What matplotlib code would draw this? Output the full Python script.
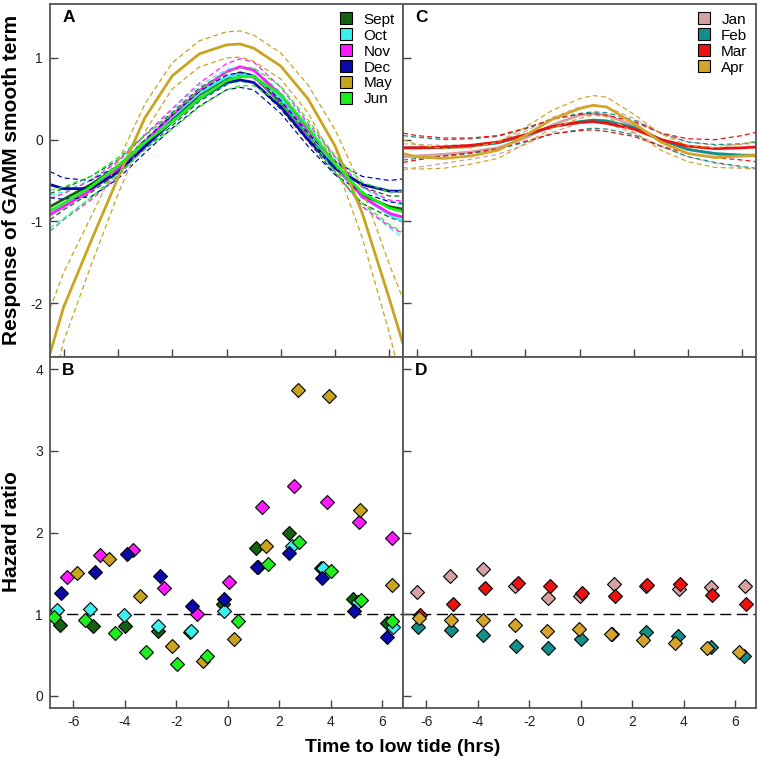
import matplotlib
matplotlib.use("Agg")
import matplotlib.pyplot as plt
from matplotlib.patches import Patch

plt.rcParams['font.family'] = ['Liberation Sans', 'DejaVu Sans']
plt.rcParams['axes.unicode_minus'] = False

# horas em relação à maré baixa onde as curvas GAMM foram lidas
tide_hours = [-6.5, -6, -5, -4, -3, -2, -1, 0, 0.5, 1, 2, 3, 4, 5, 6, 6.5]

# painel A - ajuste do termo suave e meia-largura do IC
sept_fit = [-0.82, -0.73, -0.55, -0.33, -0.03, 0.25, 0.55, 0.75, 0.82, 0.78, 0.45, 0.06, -0.34, -0.68, -0.82, -0.85]
sept_ci = [0.16, 0.13, 0.10, 0.08, 0.08, 0.08, 0.08, 0.08, 0.08, 0.08, 0.08, 0.08, 0.08, 0.10, 0.13, 0.16]
oct_fit = [-0.88, -0.80, -0.60, -0.35, -0.03, 0.28, 0.57, 0.77, 0.80, 0.78, 0.50, 0.10, -0.32, -0.70, -0.92, -1.00]
oct_ci = [0.20, 0.16, 0.11, 0.09, 0.08, 0.08, 0.09, 0.09, 0.09, 0.09, 0.08, 0.08, 0.09, 0.11, 0.16, 0.20]
nov_fit = [-0.92, -0.82, -0.62, -0.36, -0.02, 0.30, 0.60, 0.83, 0.89, 0.85, 0.55, 0.12, -0.30, -0.70, -0.90, -0.95]
nov_ci = [0.20, 0.16, 0.12, 0.09, 0.08, 0.08, 0.09, 0.10, 0.10, 0.10, 0.09, 0.08, 0.09, 0.12, 0.16, 0.20]
dec_fit = [-0.55, -0.60, -0.60, -0.40, -0.08, 0.22, 0.50, 0.70, 0.73, 0.70, 0.40, 0.00, -0.35, -0.55, -0.63, -0.63]
dec_ci = [0.16, 0.13, 0.10, 0.08, 0.08, 0.08, 0.09, 0.09, 0.09, 0.09, 0.08, 0.08, 0.08, 0.10, 0.13, 0.15]
may_fit = [-2.62, -2.05, -1.25, -0.47, 0.27, 0.78, 1.05, 1.16, 1.17, 1.12, 0.90, 0.50, -0.08, -0.90, -1.95, -2.50]
may_ci = [0.55, 0.42, 0.30, 0.20, 0.17, 0.16, 0.16, 0.16, 0.16, 0.16, 0.16, 0.17, 0.20, 0.30, 0.42, 0.55]
jun_fit = [-0.87, -0.78, -0.58, -0.32, -0.03, 0.22, 0.50, 0.72, 0.77, 0.77, 0.55, 0.15, -0.30, -0.65, -0.84, -0.88]
jun_ci = [0.25, 0.20, 0.13, 0.10, 0.09, 0.09, 0.10, 0.11, 0.11, 0.11, 0.10, 0.09, 0.10, 0.13, 0.20, 0.25]

# painel C
jan_fit = [-0.21, -0.20, -0.18, -0.15, -0.10, 0.02, 0.18, 0.30, 0.32, 0.30, 0.17, 0.00, -0.12, -0.18, -0.20, -0.20]
jan_ci = [0.16, 0.14, 0.11, 0.09, 0.08, 0.08, 0.09, 0.10, 0.10, 0.10, 0.09, 0.08, 0.09, 0.11, 0.14, 0.16]
feb_fit = [-0.10, -0.10, -0.10, -0.08, -0.04, 0.05, 0.16, 0.22, 0.24, 0.23, 0.15, 0.00, -0.12, -0.17, -0.19, -0.19]
feb_ci = [0.15, 0.13, 0.10, 0.09, 0.08, 0.08, 0.09, 0.10, 0.10, 0.10, 0.09, 0.08, 0.09, 0.11, 0.14, 0.16]
mar_fit = [-0.10, -0.10, -0.09, -0.07, -0.03, 0.06, 0.16, 0.21, 0.22, 0.20, 0.13, 0.00, -0.08, -0.11, -0.10, -0.09]
mar_ci = [0.18, 0.15, 0.11, 0.09, 0.08, 0.08, 0.09, 0.10, 0.10, 0.10, 0.09, 0.08, 0.09, 0.11, 0.15, 0.18]
apr_fit = [-0.17, -0.21, -0.23, -0.20, -0.13, 0.05, 0.25, 0.38, 0.42, 0.40, 0.20, -0.03, -0.17, -0.22, -0.20, -0.19]
apr_ci = [0.17, 0.15, 0.12, 0.10, 0.10, 0.10, 0.11, 0.12, 0.12, 0.12, 0.11, 0.10, 0.10, 0.12, 0.15, 0.17]

# painel B - hazard ratio por hora (tempo, valor)
sept_t = [-6.52, -5.25, -3.97, -2.71, -1.45, -0.17, 1.10, 2.36, 3.62, 4.87, 6.16]
sept_hr = [0.87, 0.86, 0.86, 0.79, 0.78, 1.13, 1.81, 1.99, 1.57, 1.18, 0.89]
oct_t = [-6.63, -5.34, -4.02, -2.71, -1.42, -0.13, 1.19, 2.51, 3.70, 5.06, 6.42]
oct_hr = [1.05, 1.06, 0.99, 0.86, 0.79, 1.04, 1.58, 1.84, 1.56, 1.15, 0.84]
nov_t = [-6.24, -4.97, -3.68, -2.47, -1.20, 0.06, 1.34, 2.57, 3.84, 5.09, 6.38]
nov_hr = [1.46, 1.73, 1.79, 1.32, 1.00, 1.39, 2.31, 2.57, 2.37, 2.13, 1.93]
dec_t = [-6.46, -5.17, -3.91, -2.65, -1.40, -0.13, 1.12, 2.39, 3.64, 4.91, 6.16]
dec_hr = [1.26, 1.51, 1.74, 1.47, 1.10, 1.18, 1.58, 1.75, 1.44, 1.04, 0.72]
may_t = [-5.85, -4.61, -3.40, -2.17, -0.97, 0.26, 1.49, 2.71, 3.93, 5.13, 6.38]
may_hr = [1.50, 1.68, 1.22, 0.61, 0.43, 0.69, 1.84, 3.74, 3.67, 2.27, 1.36]
jun_t = [-6.76, -5.56, -4.37, -3.18, -1.98, -0.79, 0.39, 1.58, 2.78, 3.99, 5.16, 6.36]
jun_hr = [0.97, 0.93, 0.77, 0.53, 0.39, 0.49, 0.91, 1.61, 1.88, 1.53, 1.17, 0.91]

# painel D
jan_t = [-6.36, -5.08, -3.80, -2.56, -1.27, -0.03, 1.27, 2.53, 3.80, 5.06, 6.36]
jan_hr = [1.27, 1.47, 1.55, 1.35, 1.20, 1.22, 1.37, 1.35, 1.31, 1.33, 1.35]
feb_t = [-6.30, -5.04, -3.79, -2.52, -1.27, 0.00, 1.23, 2.52, 3.77, 5.04, 6.33]
feb_hr = [0.84, 0.81, 0.75, 0.61, 0.59, 0.69, 0.76, 0.78, 0.73, 0.60, 0.49]
mar_t = [-6.23, -4.97, -3.70, -2.45, -1.19, 0.06, 1.33, 2.58, 3.85, 5.10, 6.40]
mar_hr = [0.99, 1.12, 1.32, 1.38, 1.35, 1.26, 1.22, 1.36, 1.37, 1.23, 1.12]
apr_t = [-6.27, -5.04, -3.79, -2.56, -1.32, -0.06, 1.16, 2.42, 3.66, 4.91, 6.14]
apr_hr = [0.95, 0.93, 0.93, 0.87, 0.79, 0.82, 0.76, 0.68, 0.65, 0.59, 0.53]

meses_esq = ["Sept", "Oct", "Nov", "Dec", "May", "Jun"]
cores_esq = ["#126212", "#3cf0f0", "#ff1aff", "#0a0aa8", "#c9a41e", "#1eee1e"]
fits_esq = [sept_fit, oct_fit, nov_fit, dec_fit, may_fit, jun_fit]
cis_esq = [sept_ci, oct_ci, nov_ci, dec_ci, may_ci, jun_ci]
pts_esq = [(sept_t, sept_hr), (oct_t, oct_hr), (nov_t, nov_hr), (dec_t, dec_hr), (may_t, may_hr), (jun_t, jun_hr)]

meses_dir = ["Jan", "Feb", "Mar", "Apr"]
cores_dir = ["#d4a2a2", "#14908c", "#ee1111", "#d4a52a"]
fits_dir = [jan_fit, feb_fit, mar_fit, apr_fit]
cis_dir = [jan_ci, feb_ci, mar_ci, apr_ci]
pts_dir = [(jan_t, jan_hr), (feb_t, feb_hr), (mar_t, mar_hr), (apr_t, apr_hr)]

fig = plt.figure(figsize=(7.6, 7.65), dpi=100)
W, H = 760, 765


def eixo(x0, y0, x1, y1):
    return fig.add_axes([x0 / W, 1 - y1 / H, (x1 - x0) / W, (y1 - y0) / H])


axA = eixo(50, 4, 403, 357)
axC = eixo(403, 4, 756, 357)
axB = eixo(50, 357, 403, 708)
axD = eixo(403, 357, 756, 708)


def curvas(ax, fits, cis, cores):
    for fit, ci, cor in zip(fits, cis, cores):
        sup = [f + c for f, c in zip(fit, ci)]
        inf = [f - c for f, c in zip(fit, ci)]
        ax.plot(tide_hours, sup, color=cor, lw=0.9, ls=(0, (4, 2.5)))
        ax.plot(tide_hours, inf, color=cor, lw=0.9, ls=(0, (4, 2.5)))
        ax.plot(tide_hours, fit, color=cor, lw=2.0, solid_capstyle='round', solid_joinstyle='round')
    ax.set_xlim(-6.5, 6.5)
    ax.set_ylim(-2.66, 1.66)
    ax.set_yticks([-2, -1, 0, 1])


def pontos(ax, pts, cores):
    ax.axhline(1, color='black', lw=1.0, ls=(0, (8, 4)), zorder=1)
    for (t, hr), cor in zip(pts, cores):
        ax.plot(t, hr, ls='none', marker='D', ms=7.5, mfc=cor, mec='black', mew=0.8, zorder=3)
    ax.set_xlim(-6.9, 6.8)
    ax.set_ylim(-0.15, 4.15)
    ax.set_yticks([0, 1, 2, 3, 4])


curvas(axA, fits_esq, cis_esq, cores_esq)
curvas(axC, fits_dir, cis_dir, cores_dir)
pontos(axB, pts_esq, cores_esq)
pontos(axD, pts_dir, cores_dir)

for ax, letra in zip([axA, axB, axC, axD], "ABCD"):
    ax.set_xticks([-6, -4, -2, 0, 2, 4, 6])
    ax.tick_params(direction='in', length=6, width=1, color='#444444', labelsize=10,
                   labelcolor='#222222', pad=5)
    for sp in ax.spines.values():
        sp.set_color('#555555')
        sp.set_linewidth(1.3)
    ax.text(0.035, 0.962, letra, transform=ax.transAxes, fontsize=12.5,
            fontweight='bold', ha='left', va='center')

axA.tick_params(labelbottom=False)
axC.tick_params(labelbottom=False, labelleft=False)
axD.tick_params(labelleft=False)

axA.legend(handles=[Patch(facecolor=c, edgecolor='black', lw=0.8, label=m) for m, c in zip(meses_esq, cores_esq)],
           loc='upper right', frameon=False, fontsize=11, handlelength=0.8, handleheight=0.8,
           labelspacing=0.12, handletextpad=0.75, borderaxespad=0.15)
axC.legend(handles=[Patch(facecolor=c, edgecolor='black', lw=0.8, label=m) for m, c in zip(meses_dir, cores_dir)],
           loc='upper right', frameon=False, fontsize=11, handlelength=0.8, handleheight=0.8,
           labelspacing=0.12, handletextpad=0.75, borderaxespad=0.15)

fig.text(12 / W, 1 - 180 / H, "Response of GAMM smooth term", rotation=90, fontsize=15,
         fontweight='bold', ha='center', va='center')
fig.text(12 / W, 1 - 532 / H, "Hazard ratio", rotation=90, fontsize=15,
         fontweight='bold', ha='center', va='center')
fig.text(403 / W, 1 - 748 / H, "Time to low tide (hrs)", fontsize=14,
         fontweight='bold', ha='center', va='center')

fig.savefig("out.png", dpi=100)
